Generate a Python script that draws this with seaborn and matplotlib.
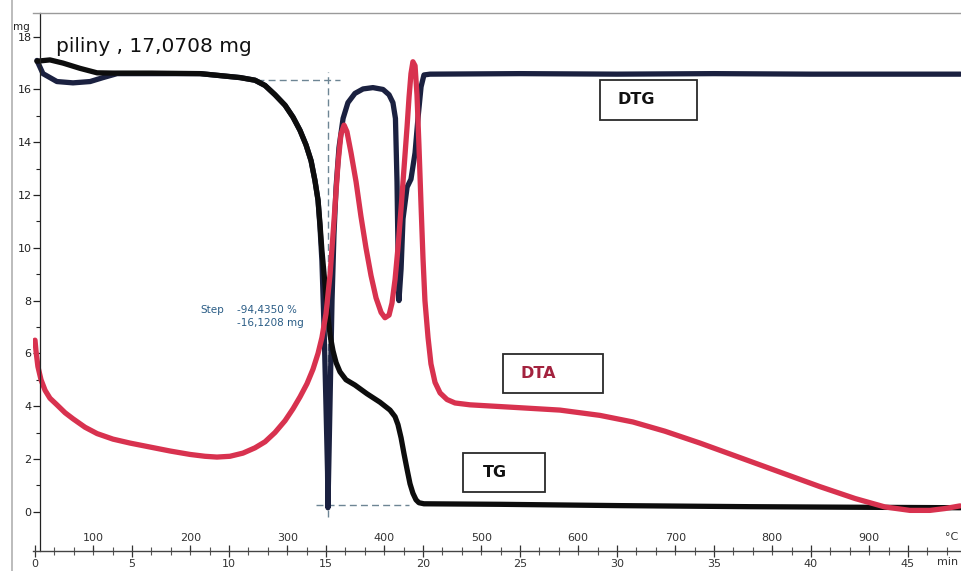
import matplotlib
matplotlib.use("Agg")
import matplotlib.pyplot as plt
from matplotlib.patches import Rectangle
from matplotlib.lines import Line2D
from matplotlib.ticker import MultipleLocator, FixedLocator
import seaborn as sns

# ---- measured curves (time in min) ----
tg_time = [0.10, 0.77, 1.44, 2.32, 3.20, 4.02, 6.0, 8.51, 10.57, 11.34, 11.86, 12.37,
           12.89, 13.30, 13.66, 13.97, 14.23, 14.43, 14.59, 14.69, 14.79, 14.95, 15.10,
           15.21, 15.36, 15.52, 15.72, 16.03, 16.49, 17.11, 17.78, 18.30, 18.56, 18.71,
           18.87, 19.02, 19.18, 19.33, 19.48, 19.64, 19.79, 20.05, 24.0, 30.2, 36.9,
           42.0, 47.7]
tg_mg = [17.07, 17.12, 17.0, 16.8, 16.63, 16.62, 16.62, 16.6, 16.45, 16.35, 16.15, 15.8,
         15.4, 14.95, 14.45, 13.9, 13.3, 12.55, 11.8, 10.9, 9.9, 8.6, 7.4,
         6.7, 6.1, 5.65, 5.3, 5.0, 4.8, 4.47, 4.15, 3.85, 3.6, 3.3,
         2.8, 2.2, 1.6, 1.06, 0.7, 0.45, 0.34, 0.30, 0.28, 0.23, 0.19,
         0.17, 0.15]

dtg_time = [0.10, 0.41, 1.13, 1.96, 2.84, 3.51, 4.23, 6.0, 8.51, 10.57, 11.34, 11.86,
            12.37, 12.89, 13.30, 13.66, 13.97, 14.23, 14.43, 14.59, 14.69, 14.79, 14.90,
            15.0, 15.08, 15.10, 15.15, 15.23, 15.31, 15.41, 15.52, 15.67, 15.88, 16.13,
            16.49, 16.91, 17.42, 17.94, 18.25, 18.45, 18.58, 18.66, 18.71, 18.76, 18.87,
            18.97, 19.18, 19.38, 19.59, 19.74, 19.90, 20.05, 20.36, 25.0, 30.0, 35.0,
            40.0, 47.7]
dtg_mg = [17.1, 16.6, 16.3, 16.25, 16.3, 16.45, 16.6, 16.6, 16.6, 16.45, 16.35, 16.15,
          15.8, 15.4, 14.95, 14.45, 13.9, 13.3, 12.55, 11.8, 10.8, 9.5, 7.0,
          4.0, 1.5, 0.15, 2.0, 5.0, 8.0, 10.5, 12.3, 13.8, 14.9, 15.5,
          15.85, 16.02, 16.07, 16.0, 15.8, 15.5, 14.9, 12.5, 10.0, 8.0, 9.2,
          11.1, 12.3, 12.6, 13.6, 14.9, 16.1, 16.55, 16.58, 16.6, 16.58, 16.6,
          16.58, 16.58]

dta_time = [0.0, 0.05, 0.15, 0.31, 0.52, 0.77, 1.13, 1.55, 1.96, 2.58, 3.20, 4.02,
            4.90, 5.93, 6.96, 7.99, 8.76, 9.38, 10.05, 10.72, 11.34, 11.86, 12.37, 12.89,
            13.30, 13.66, 14.02, 14.33, 14.59, 14.79, 15.0, 15.21, 15.41, 15.62, 15.77,
            15.93, 16.08, 16.29, 16.55, 16.80, 17.06, 17.32, 17.58, 17.84, 18.04, 18.25,
            18.40, 18.56, 18.71, 18.87, 19.02, 19.18, 19.28, 19.38, 19.48, 19.59, 19.69,
            19.79, 19.90, 20.0, 20.10, 20.26, 20.41, 20.62, 20.88, 21.24, 21.65, 22.42,
            25.0, 27.06, 29.12, 30.82, 32.47, 34.28, 36.34, 38.40, 40.46, 42.27, 43.81,
            45.10, 46.13, 46.91, 47.68]
dta_val = [6.5, 6.1, 5.5, 5.0, 4.6, 4.3, 4.05, 3.75, 3.52, 3.2, 2.96, 2.75,
           2.6, 2.45, 2.3, 2.17, 2.1, 2.07, 2.1, 2.22, 2.42, 2.65, 3.0, 3.45,
           3.9, 4.35, 4.85, 5.4, 6.0, 6.6, 7.5, 9.0, 11.0, 13.2, 14.3,
           14.65, 14.4, 13.6, 12.5, 11.2, 10.0, 8.95, 8.1, 7.55, 7.35, 7.45,
           7.9, 8.8, 10.0, 11.5, 13.0, 14.6, 15.7, 16.6, 17.05, 16.9, 15.8,
           13.9, 11.6, 9.6, 8.0, 6.6, 5.6, 4.9, 4.5, 4.25, 4.12, 4.05,
           3.94, 3.85, 3.65, 3.4, 3.05, 2.6, 2.05, 1.5, 0.95, 0.5, 0.18,
           0.05, 0.05, 0.12, 0.22]

y_ticks = [0, 2, 4, 6, 8, 10, 12, 14, 16, 18]
temp_ticks = [100, 200, 300, 400, 500, 600, 700, 800, 900]
sample_label = "piliny , 17,0708 mg"
step_pct = "-94,4350 %"
step_mg = 16.1208
step_bottom = 0.25
step_time = 15.12

# heating program: 40 °C start, 20 °C/min
T0, RATE = 40.0, 20.0

sns.set_style("white")
plt.rcParams["font.family"] = ["DejaVu Sans"]

W, H = 961, 571
fig = plt.figure(figsize=(W / 100, H / 100), dpi=100)


def fx(px):
    return px / W


def fy(py):
    return 1 - py / H


ax_left, ax_right, ax_top, ax_bottom = 33, 961, 13, 551
ax = fig.add_axes([fx(ax_left), fy(ax_bottom), fx(ax_right - ax_left), (ax_bottom - ax_top) / H])
px_per_min = 19.4
px_per_mg = 26.39
y0_px = 511.7
xmin = (ax_left - 35) / px_per_min
xmax = (ax_right - 35) / px_per_min
ax.set_xlim(xmin, xmax)
ax.set_ylim((y0_px - ax_bottom) / px_per_mg, (y0_px - ax_top) / px_per_mg)

line_kw = dict(estimator=None, sort=False, linewidth=3.8, ax=ax)
sns.lineplot(x=dtg_time, y=dtg_mg, color="#1b2140", **line_kw)
sns.lineplot(x=tg_time, y=tg_mg, color="#0d0d0d", **line_kw)
sns.lineplot(x=dta_time, y=dta_val, color="#d8324f", **line_kw)
for ln in ax.lines:
    ln.set_solid_joinstyle("round")
    ln.set_solid_capstyle("round")

# step evaluation markers
dash_c = "#6d8594"
dash = dict(color=dash_c, lw=1.0, ls=(0, (5, 3)), zorder=1)
step_top = step_bottom + step_mg
ax.plot([11.44, 15.72], [step_top, step_top], **dash)
ax.plot([step_time, step_time], [-0.2, step_top + 0.3], **dash)
ax.plot([14.5, 19.3], [step_bottom, step_bottom], **dash)

# spines
ax.spines["right"].set_visible(False)
ax.spines["top"].set_color("#9a9a9a")
ax.spines["top"].set_linewidth(1.0)
ax.spines["left"].set_position(("data", (40 - 35) / px_per_min))
ax.spines["left"].set_color("#222222")
ax.spines["left"].set_linewidth(0.9)
ax.spines["bottom"].set_color("#444444")
ax.spines["bottom"].set_linewidth(1.0)

# y axis
ax.set_yticks(y_ticks)
ax.yaxis.set_minor_locator(FixedLocator([v + 1 for v in y_ticks[:-1]]))
ax.tick_params(axis="y", which="major", direction="out", length=5, width=0.9,
               pad=1, labelsize=8, colors="#222222", left=True)
ax.tick_params(axis="y", which="minor", direction="out", length=3, width=0.8,
               colors="#222222", left=True)

# time axis
ax.xaxis.set_major_locator(MultipleLocator(5))
ax.xaxis.set_minor_locator(MultipleLocator(1))
ax.tick_params(axis="x", which="major", direction="inout", length=9, width=0.9,
               pad=1, labelsize=8, colors="#333333", bottom=True)
ax.tick_params(axis="x", which="minor", direction="inout", length=6, width=0.8,
               colors="#555555", bottom=True)
ax.set_xlabel("")
ax.set_ylabel("")

# temperature axis sitting on the same baseline, labels above
ax2 = ax.twiny()
ax2.set_xlim(T0 + RATE * xmin, T0 + RATE * xmax)
ax2.spines["top"].set_position(("axes", 0.0))
for s in ["left", "right", "bottom", "top"]:
    ax2.spines[s].set_visible(False)
ax2.set_xticks(temp_ticks)
ax2.tick_params(axis="x", which="major", direction="out", length=4, width=0.9,
                pad=2, labelsize=8, colors="#333333")

# unit labels at the end of the axes
fig.text(fx(958), fy(537), "°C", fontsize=8, color="#333333", va="center", ha="right")
fig.text(fx(958), fy(562), "min", fontsize=8, color="#333333", va="center", ha="right")
fig.text(fx(13), fy(27), "mg", fontsize=7.5, color="#222222", va="center", ha="left")

# sample name
fig.text(fx(56), fy(47), sample_label, fontsize=14.5, color="#111111", va="center", ha="left")

# step annotation
step_c = "#2b5d86"
fig.text(fx(200), fy(310), "Step", fontsize=7.5, color=step_c, va="center", ha="left")
fig.text(fx(237), fy(310), step_pct, fontsize=7.5, color=step_c, va="center", ha="left")
fig.text(fx(237), fy(323), f"-{step_mg:.4f} mg".replace(".", ","), fontsize=7.5,
         color=step_c, va="center", ha="left")


# labelled boxes
def box(x0, y0, x1, y1, label, cx, color):
    fig.patches.append(Rectangle((fx(x0), fy(y1)), fx(x1 - x0), (y1 - y0) / H,
                                 transform=fig.transFigure, fill=False,
                                 edgecolor="#2a2a2a", linewidth=1.3, zorder=5))
    fig.text(fx(cx), fy((y0 + y1) / 2), label, fontsize=11.5, fontweight="bold",
             color=color, ha="center", va="center", zorder=6)


box(600, 80, 697, 120, "DTG", 636, "#111111")
box(503, 354, 603, 393, "DTA", 538, "#a3223e")
box(463, 453, 545, 492, "TG", 495, "#111111")

# page edge
fig.lines.append(Line2D([fx(12), fx(12)], [fy(0), fy(571)], transform=fig.transFigure,
                        color="#b0b0b0", lw=1.2))

fig.savefig("out.png", dpi=100, facecolor="white")
